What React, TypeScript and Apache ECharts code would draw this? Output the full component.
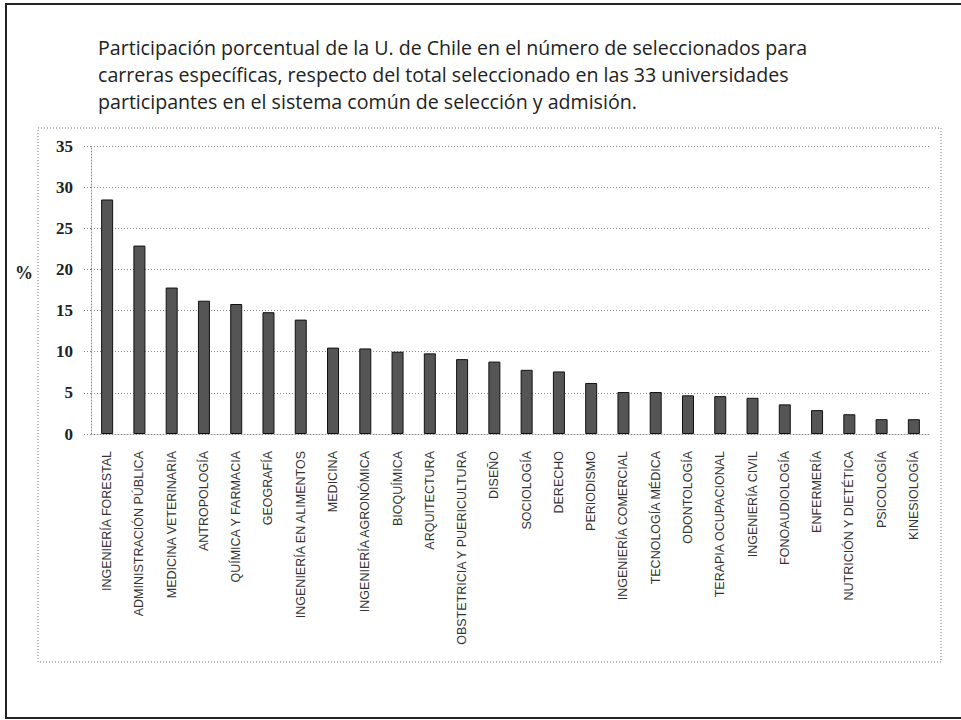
import React, { useEffect, useRef } from "react";
import * as echarts from "echarts";

const categories = [
  "INGENIERÍA FORESTAL",
  "ADMINISTRACIÓN PÚBLICA",
  "MEDICINA VETERINARIA",
  "ANTROPOLOGÍA",
  "QUÍMICA Y FARMACIA",
  "GEOGRAFÍA",
  "INGENIERÍA EN ALIMENTOS",
  "MEDICINA",
  "INGENIERÍA AGRONÓMICA",
  "BIOQUÍMICA",
  "ARQUITECTURA",
  "OBSTETRICIA Y PUERICULTURA",
  "DISEÑO",
  "SOCIOLOGÍA",
  "DERECHO",
  "PERIODISMO",
  "INGENIERÍA COMERCIAL",
  "TECNOLOGÍA MÉDICA",
  "ODONTOLOGÍA",
  "TERAPIA OCUPACIONAL",
  "INGENIERÍA CIVIL",
  "FONOAUDIOLOGÍA",
  "ENFERMERÍA",
  "NUTRICIÓN Y DIETÉTICA",
  "PSICOLOGÍA",
  "KINESIOLOGÍA",
];

const values = [
  28.5, 22.9, 17.8, 16.2, 15.8, 14.8, 13.9, 10.5, 10.4, 10.0, 9.8, 9.1, 8.8,
  7.8, 7.6, 6.2, 5.1, 5.1, 4.7, 4.6, 4.4, 3.6, 2.9, 2.4, 1.8, 1.8,
];

const titleLines = [
  "Participación porcentual de la U. de Chile en el número de seleccionados para",
  "carreras específicas, respecto del total seleccionado en las 33 universidades",
  "participantes en el sistema común de selección y admisión.",
];

const yAxisName = "%";

export default function App() {
  const ref = useRef<HTMLDivElement>(null);

  useEffect(() => {
    if (!ref.current) return;
    const chart = echarts.init(ref.current, null, { renderer: "svg" });
    const dotted = { color: "#8a8a8a", type: [1, 2] as any, width: 1 };
    chart.setOption({
      animation: false,
      backgroundColor: "#ffffff",
      title: {
        text: titleLines.join("\n"),
        left: 93,
        top: 29,
        textStyle: {
          fontFamily: "Open Sans",
          fontSize: 19.6,
          fontWeight: "normal",
          color: "#222",
          lineHeight: 27,
        },
      },
      graphic: [
        {
          type: "rect",
          shape: { x: 6, y: 4, width: 980, height: 714 },
          style: { fill: "none", stroke: "#222", lineWidth: 2 },
          silent: true,
        },
        {
          type: "rect",
          shape: { x: 38, y: 128, width: 903, height: 534 },
          style: { fill: "none", stroke: "#777", lineWidth: 1, lineDash: [1, 2] },
          silent: true,
        },
        {
          type: "text",
          left: 15,
          top: 264,
          style: {
            text: yAxisName,
            fontFamily: "Liberation Serif",
            fontWeight: "bold",
            fontSize: 18,
            fill: "#222",
          },
        },
      ],
      grid: { left: 91, right: 31, top: 146, bottom: 286, containLabel: false },
      xAxis: {
        type: "category",
        data: categories,
        axisLine: { show: true, lineStyle: dotted },
        axisTick: { show: false },
        axisLabel: {
          rotate: 90,
          interval: 0,
          margin: 17,
          fontFamily: "Liberation Sans",
          fontSize: 12.5,
          color: "#333",
        },
      },
      yAxis: {
        type: "value",
        min: 0,
        max: 35,
        interval: 5,
        axisLine: { show: true, lineStyle: dotted },
        axisTick: { show: true, length: 8, lineStyle: dotted },
        splitLine: { show: true, lineStyle: dotted },
        axisLabel: {
          margin: 18,
          fontFamily: "Liberation Serif",
          fontWeight: "bold",
          fontSize: 17,
          color: "#222",
        },
      },
      series: [
        {
          type: "bar",
          data: values,
          barWidth: 12,
          itemStyle: { color: "#555555", borderColor: "#111", borderWidth: 1 },
        },
      ],
    });
    return () => chart.dispose();
  }, []);

  return (
    <div
      ref={ref}
      style={{ position: "fixed", left: 0, top: 0, width: 961, height: 720 }}
    />
  );
}
